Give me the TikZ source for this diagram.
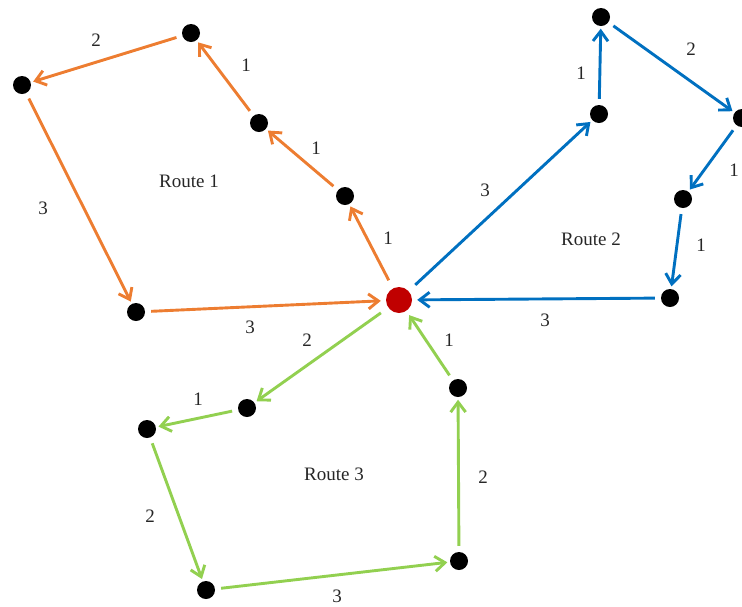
\documentclass[tikz,border=0pt]{standalone}
\usepackage{fontspec}
\setmainfont{Liberation Serif}
\usetikzlibrary{arrows.meta}
\definecolor{rorange}{HTML}{ED7D31}
\definecolor{rblue}{HTML}{0070C0}
\definecolor{rgreen}{HTML}{92D050}
\definecolor{rred}{HTML}{C00000}
\begin{document}
\begin{tikzpicture}[x=1pt,y=-1pt,
  dot/.style={circle,fill=black,inner sep=0pt,minimum size=18pt},
  depot/.style={circle,fill=rred,inner sep=0pt,minimum size=26pt},
  lbl/.style={font=\fontsize{19}{21}\selectfont,text=black!85},
  edge/.style={line width=2.9pt,-{Straight Barb[length=10pt,width=15pt,line width=2.9pt]},shorten <=6pt,shorten >=2.5pt},
  r1/.style={edge,rorange},
  r2/.style={edge,rblue},
  r3/.style={edge,rgreen}]
\useasboundingbox (0,0) rectangle (742,606);
% nodes
\node[depot] (d) at (399,300) {};
% route 1
\node[dot] (a1) at (345,196) {};
\node[dot] (a2) at (259,123) {};
\node[dot] (a3) at (191,33) {};
\node[dot] (a4) at (22,85) {};
\node[dot] (a5) at (136,312) {};
% route 2
\node[dot] (b1) at (599,114) {};
\node[dot] (b2) at (601,17) {};
\node[dot] (b3) at (742,118) {};
\node[dot] (b4) at (683,199) {};
\node[dot] (b5) at (670,298) {};
% route 3
\node[dot] (c1) at (247,408) {};
\node[dot] (c2) at (147,429) {};
\node[dot] (c3) at (206,590) {};
\node[dot] (c4) at (459,561) {};
\node[dot] (c5) at (458,388) {};
% edges route 1
\draw[r1,shorten <=9pt] (d) -- (a1);
\draw[r1] (a1) -- (a2);
\draw[r1] (a2) -- (a3);
\draw[r1] (a3) -- (a4);
\draw[r1] (a4) -- (a5);
\draw[r1,shorten >=5pt] (a5) -- (d);
% edges route 2
\draw[r2,shorten <=9pt] (d) -- (b1);
\draw[r2] (b1) -- (b2);
\draw[r2] (b2) -- (b3);
\draw[r2] (b3) -- (b4);
\draw[r2] (b4) -- (b5);
\draw[r2,shorten >=5pt] (b5) -- (d);
% edges route 3
\draw[r3,shorten <=9pt] (d) -- (c1);
\draw[r3] (c1) -- (c2);
\draw[r3] (c2) -- (c3);
\draw[r3] (c3) -- (c4);
\draw[r3] (c4) -- (c5);
\draw[r3,shorten >=5pt] (c5) -- (d);
% labels route 1
\node[lbl] (l11) at (388,238) {1};
\node[lbl] (l12) at (316,148) {1};
\node[lbl] (l13) at (246,65) {1};
\node[lbl] (l14) at (96,40) {2};
\node[lbl] (l15) at (43,208) {3};
\node[lbl] (l16) at (250,327) {3};
% labels route 2
\node[lbl] (l21) at (485,190) {3};
\node[lbl] (l22) at (581,73) {1};
\node[lbl] (l23) at (691,49) {2};
\node[lbl] (l24) at (734,170) {1};
\node[lbl] (l25) at (701,245) {1};
\node[lbl] (l26) at (545,320) {3};
% labels route 3
\node[lbl] (l31) at (307,340) {2};
\node[lbl] (l32) at (198,399) {1};
\node[lbl] (l33) at (150,516) {2};
\node[lbl] (l34) at (337,596) {3};
\node[lbl] (l35) at (483,477) {2};
\node[lbl] (l36) at (449,340) {1};
% route names
\node[lbl] (n1) at (189,181) {Route 1};
\node[lbl] (n2) at (591,239) {Route 2};
\node[lbl] (n3) at (334,474) {Route 3};
\end{tikzpicture}
\end{document}
